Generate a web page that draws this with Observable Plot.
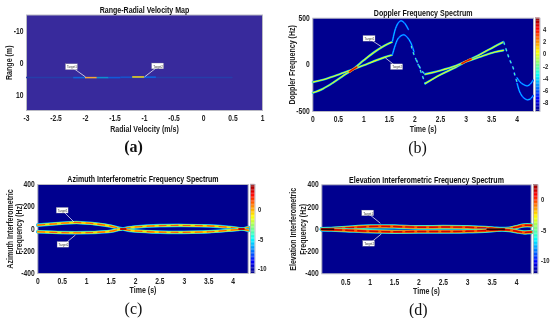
<!DOCTYPE html>
<html><head><meta charset="utf-8">
<script src="https://cdn.jsdelivr.net/npm/d3@7"></script>
<script src="https://cdn.jsdelivr.net/npm/@observablehq/plot@0.6"></script>
<style>
html,body{margin:0;padding:0;background:#fff}
#c{position:relative;width:550px;height:318px;overflow:hidden;filter:blur(.3px)}
#c svg{position:absolute;background:transparent;overflow:visible}
</style></head><body><div id="c"></div>
<script>
const jet=["#00008f","#0000ff","#0080ff","#00ffff","#80ff80","#ffff00","#ff8000","#ff0000","#800000"];
const parula=["#352a87","#0f5cdd","#1481d6","#06a4ca","#2eb7a4","#87bf77","#d1bb59","#f5a33a","#f9d80e"];

// (a) Range-Radial Velocity
const aTicksX=[-3,-2.5,-2,-1.5,-1,-0.5,0,0.5,1], aTicksY=[-10,0,10];
const aSegments=[
 {x1:-3,x2:0.5,y:4.5,v:0.05},{x1:-2.2,x2:-2,y:4.5,v:0.16},{x1:-2,x2:-1.8,y:4.5,v:0.88},
 {x1:-1.8,x2:-1.6,y:4.5,v:0.3},{x1:-1.6,x2:-1.4,y:4.5,v:0.12},{x1:-1.4,x2:-0.8,y:4.4,v:0.1},
 {x1:-1.2,x2:-1,y:4.3,v:1},{x1:-1,x2:-0.8,y:4.4,v:0.14}];

// (b) Doppler
const bT1a=[[0,-300],[0.2,-255],[0.4,-190],[0.6,-115],[0.78,-50],[1,50],[1.2,135],[1.4,205],[1.55,245]];
const bT2a=[[0,-185],[0.2,-160],[0.4,-125],[0.6,-85],[0.78,-50],[1,-5],[1.2,40],[1.4,80],[1.55,105]];
const bT1b=[[1.56,255],[1.62,390],[1.68,455],[1.73,472],[1.8,445],[1.87,380]];
const bT2b=[[1.56,112],[1.62,220],[1.68,290],[1.78,322],[1.85,295],[1.92,235],[1.98,140]];
const bFall1=[[1.93,200],[1.98,110],[2.05,20],[2.12,-80],[2.2,-200]];
const bFall2=[[2.03,50],[2.08,-10],[2.14,-70],[2.2,-100]];
const bT1c=[[2.2,-200],[2.5,-105],[2.8,-25],[3,35],[3.3,120],[3.55,195],[3.73,245]];
const bT2c=[[2.2,-100],[2.5,-60],[2.8,-10],[3,35],[3.3,90],[3.55,135],[3.73,155]];
const bFall3=[[3.74,240],[3.8,140],[3.85,60],[3.92,-30],[3.95,-100],[4,-190]];
const bT1d=[[4,-200],[4.05,-290],[4.12,-350],[4.2,-375],[4.26,-365],[4.31,-330]];
const bT2d=[[4,-140],[4.05,-180],[4.12,-210],[4.2,-225],[4.26,-205],[4.31,-165]];
const bHot=[[0.72,-75],[0.76,-58],[0.8,-45],[0.86,-25]];
const bHot2=[[2.92,15],[2.98,32],[3.04,48],[3.1,62]];

// (c) Azimuth
const cU1=[[0,35],[0.3,45],[0.8,58],[1.2,45],[1.5,25],[1.65,8],[1.75,0]];
const cL1=[[0,-25],[0.5,-33],[1,-33],[1.5,-20],[1.65,-5],[1.75,0]];
const cU2=[[1.75,0],[1.85,10],[2,18],[2.5,30],[3,32],[3.5,28],[3.9,15],[4.1,5],[4.17,0],[4.31,12]];
const cL2=[[1.75,0],[1.85,-10],[2,-18],[2.5,-28],[3,-30],[3.5,-25],[3.9,-12],[4.1,-4],[4.17,0],[4.31,-12]];
const cHot=[[1.7,0],[1.8,0]], cHot2=[[4.12,0],[4.22,0]];

// (d) Elevation
const dU=[[0.01,0],[0.2,4],[0.5,12],[1,25],[1.5,25],[2,18],[2.5,20],[3,18],[3.5,8],[3.7,2],[3.85,6],[4,20],[4.15,35],[4.3,35]];
const dL=[[0.01,0],[0.2,-3],[0.5,-8],[1,-18],[1.5,-22],[2,-20],[2.5,-20],[3,-18],[3.5,-8],[3.7,-2],[3.85,-6],[4,-18],[4.15,-28],[4.3,-25]];
const dHot=[[0.01,0],[0.25,0]], dHot2=[[3.4,0],[3.75,0]];

const targetsA=[{x:-2.23,y:1.25,tx:-2,ty:4.3,w:.2,h:1.8,n:"Target1"},{x:-0.77,y:1,tx:-1,ty:4.3,w:.2,h:1.8,n:"Target2"}];
const targetsB=[{x:1.11,y:279,tx:1.34,ty:196,w:.235,h:60,n:"Target1"},{x:1.65,y:-25,tx:1.42,ty:75,w:.235,h:60,n:"Target2"}];
const targetsC=[{x:.51,y:164,tx:.74,ty:63,w:.24,h:50,n:"Target1"},{x:.525,y:-143,tx:.77,ty:-54,w:.24,h:50,n:"Target2"}];
const targetsD=[{x:.96,y:143,tx:1.21,ty:54,w:.24,h:50,n:"Target1"},{x:.98,y:-131,tx:1.23,ty:-42,w:.24,h:50,n:"Target2"}];

const font={fontFamily:"'Liberation Sans',Arial,sans-serif",fontWeight:"bold",fontSize:"8.2px",background:"transparent"};
const root=document.getElementById("c");

function targetMarks(t){return [
  Plot.link(t,{x1:"x",y1:"y",x2:"tx",y2:"ty",stroke:"#fff",strokeWidth:.7}),
  Plot.rect(t,{x1:d=>d.x-d.w/2,x2:d=>d.x+d.w/2,y1:d=>d.y-d.h/2,y2:d=>d.y+d.h/2,fill:"#fff",stroke:"#999",strokeWidth:.3}),
  Plot.text(t,{x:"x",y:"y",text:"n",fill:"#333",fontSize:3.6,fontWeight:"normal"})
];}
function textMarks(c){return [
  Plot.text([c.title],{frameAnchor:"top",lineAnchor:"bottom",dy:-2,fontSize:8.6,fill:"#111"}),
  Plot.text([c.xlabel],{frameAnchor:"bottom",lineAnchor:"bottom",dy:c.xdy,fontSize:8.6,fill:"#222"}),
  ...c.ylabel.map((l,i)=>Plot.text([l],{frameAnchor:"left",textAnchor:"middle",lineAnchor:"middle",rotate:-90,dx:c.ydx[i],fontSize:8.6,fill:"#222"})),
  Plot.text([c.cap],{frameAnchor:"bottom",lineAnchor:"bottom",dy:c.capDy,dx:c.capDx,fontSize:16,fontFamily:"'Liberation Serif',serif",fontWeight:c.capW||"normal",fill:"#111"})
];}
function rows(a){return a.map(([t,f])=>({t,f}));}
function band(a,w,lv,extra={}){return Plot.line(rows(a),{x:"t",y:"f",stroke:()=>lv,strokeWidth:w,curve:"catmull-rom",...extra});}
function panel(c){
  const p=Plot.plot({width:c.left+c.w+c.mr,height:c.top+c.h+c.mb,
    marginLeft:c.left,marginRight:c.mr,marginTop:c.top,marginBottom:c.mb,style:font,
    x:{domain:c.xd,label:null,ticks:c.xt,tickFormat:d=>String(d),tickSize:0},
    y:{domain:c.yd,label:null,ticks:c.yt,tickFormat:d=>String(d),tickSize:0},
    color:{type:"linear",domain:c.cd,range:c.pal},
    marks:[
      Plot.frame({fill:c.bg,stroke:"#b9b9c4",strokeWidth:1}),
      Plot.axisX({ticks:c.xt,tickFormat:d=>String(d),tickSize:0,tickPadding:c.xpad||5,label:null,fill:"#222"}),
      Plot.axisY({ticks:c.yt,tickFormat:d=>String(d),tickSize:0,tickPadding:3,label:null,fill:"#222"}),
      ...c.marks,...targetMarks(c.targets),...textMarks(c)
    ]});
  p.style.left=c.x0+"px";p.style.top=c.y0+"px";root.append(p);
  if(c.cb){
    const lv=d3.range(65).map(i=>c.cd[0]+(c.cd[1]-c.cd[0])*i/65),st=(c.cd[1]-c.cd[0])/65;
    const b=Plot.plot({width:4.6+20,height:c.top+c.h+c.mb,marginLeft:0,marginRight:20,marginTop:c.top,marginBottom:c.mb,style:font,
      x:{domain:[0,1],axis:null},y:{domain:c.cd,label:null},
      color:{type:"linear",domain:c.cd,range:c.pal},
      marks:[
        Plot.rect(lv,{x1:0,x2:1,y1:d=>d,y2:d=>d+st*1.05,fill:d=>d}),
        Plot.frame({stroke:"#b9b9c4",strokeWidth:.8}),
        Plot.axisY({anchor:"right",ticks:c.cb,tickFormat:d=>String(d),tickSize:0,tickPadding:3,label:null,fill:"#222",fontSize:7.2})
      ]});
    b.style.left=(c.x0+c.left+c.w+c.cbGap)+"px";b.style.top=c.y0+"px";root.append(b);
  }
}
function bright(a){return [band(a,2.2,-4.6),band(a,1.1,-0.2)];}
function dim(a,extra){return [band(a,1.9,-7,extra),band(a,1,-4.2,extra)];}
function drop(a){return [band(a,2,-7,{strokeDasharray:"2 4.5"}),band(a,1.2,-2.5,{strokeDasharray:"2 4.5"})];}
function hot(a){return [band(a,2.2,2,{curve:"linear"}),band(a,1.1,4.6,{curve:"linear"})];}

panel({x0:0,y0:0,left:26,top:14.5,w:236,h:95.5,mr:13,mb:30,bg:"#382a9c",pal:parula,cd:[0,1],
  xd:[-3,1],yd:[14.8,-15.1],xt:aTicksX,yt:aTicksY,
  title:"Range-Radial Velocity Map",xlabel:"Radial Velocity (m/s)",ylabel:["Range (m)"],cap:"(a)",capW:"bold",xdy:21.5,ydx:[-17],capDy:41,capDx:-11,
  targets:targetsA,
  marks:[Plot.ruleY(aSegments,{y:"y",x1:"x1",x2:"x2",stroke:"v",strokeWidth:1.5})]});

panel({x0:275,y0:0,left:37.3,top:17.7,w:220.7,h:93.3,mr:17,mb:30,bg:"#00008f",pal:jet,cd:[-9.4,5.9],
  xd:[0,4.32],yd:[-500,500],xt:[0,.5,1,1.5,2,2.5,3,3.5,4],yt:[-500,0,500],cb:[-8,-6,-4,-2,0,2,4],cbGap:1.7,
  title:"Doppler Frequency Spectrum",xlabel:"Time (s)",ylabel:["Doppler Frequency (Hz)"],cap:"(b)",xdy:20.5,ydx:[-20.6],capDy:41.5,capDx:-5.6,
  targets:targetsB,
  marks:[...bright(bT1a),...bright(bT2a),...dim(bT1b),...dim(bT2b),
    ...drop(bFall1),...drop(bFall2),
    ...bright(bT1c),...bright(bT2c),...drop(bFall3),...dim(bT1d),...dim(bT2d),
    ...hot(bHot),...hot(bHot2)]});

panel({x0:0,y0:160,left:37.3,top:24,w:210.4,h:89,mr:8,mb:30,bg:"#00008f",pal:jet,cd:[-10.8,4.27],
  xd:[0,4.307],yd:[-400,400],xt:[0,.5,1,1.5,2,2.5,3,3.5,4],yt:[-400,-200,0,200,400],cb:[-10,-5,0],cbGap:2,
  title:"Azimuth Interferometric Frequency Spectrum",xlabel:"Time (s)",ylabel:["Azimuth Interferometric","Frequency (Hz)"],cap:"(c)",xdy:20,ydx:[-28,-19],capDy:41,capDx:-9.5,
  targets:targetsC,
  marks:[cU1,cL1,cU2,cL2].flatMap(a=>[band(a,3.6,-6.8),band(a,2.8,-4),band(a,1.9,-0.8),band(a,1.1,1.1,{strokeDasharray:"7 5"})])
    .concat(hot(cHot),hot(cHot2))});

panel({x0:275,y0:160,left:46.3,top:24.3,w:209.4,h:89,mr:7,mb:30,bg:"#00008f",pal:jet,cd:[-12.2,2.55],
  xd:[0.01,4.3],yd:[-400,400],xt:[.5,1,1.5,2,2.5,3,3.5,4],yt:[-400,-200,0,200,400],cb:[-10,-5,0],cbGap:2,
  title:"Elevation Interferometric Frequency Spectrum",xlabel:"Time (s)",ylabel:["Elevation Interferometric","Frequency (Hz)"],cap:"(d)",xdy:20,ydx:[-29,-19],capDy:41,capDx:-8.3,
  targets:targetsD,
  marks:[dU,dL].flatMap(a=>[band(a,4.4,-7.5),band(a,3.5,-4.5),band(a,2.6,-0.6),band(a,1.4,1.4,{strokeDasharray:"8 4"})])
    .concat(hot(dHot),hot(dHot2))});

// MATLAB-style condensed labels: squeeze every sans text to the reference's width
root.querySelectorAll("svg text").forEach(t=>{
  if(getComputedStyle(t).fontFamily.includes("Serif")) return;
  const l=t.getComputedTextLength();
  if(l>0){t.setAttribute("textLength",(l*.82).toFixed(2));t.setAttribute("lengthAdjust","spacingAndGlyphs");}
});
</script></body></html>
